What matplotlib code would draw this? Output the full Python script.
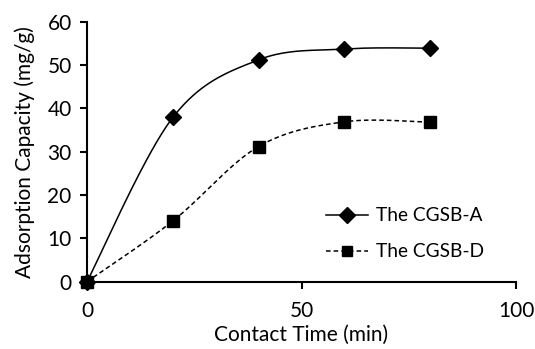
import numpy as np
import matplotlib
matplotlib.use("Agg")
import matplotlib.pyplot as plt

time = [0, 20, 40, 60, 80]
cgsb_a = [0, 37.9, 51.2, 53.7, 53.9]
cgsb_d = [0, 14.0, 31.2, 36.9, 36.8]
x_ticks = [0, 50, 100]
y_ticks = [0, 10, 20, 30, 40, 50, 60]


def smooth(xs, ys, n=40):
    xs = np.asarray(xs, float); ys = np.asarray(ys, float)
    px = np.concatenate([[xs[0]], xs, [xs[-1]]])
    py = np.concatenate([[ys[0]], ys, [ys[-1]]])
    ox, oy = [], []
    t = np.linspace(0, 1, n)
    for i in range(1, len(px) - 2):
        p0 = np.array([px[i], py[i]]); p3 = np.array([px[i + 1], py[i + 1]])
        p1 = p0 + (np.array([px[i + 1], py[i + 1]]) - np.array([px[i - 1], py[i - 1]])) / 6
        p2 = p3 - (np.array([px[i + 2], py[i + 2]]) - np.array([px[i], py[i]])) / 6
        b = ((1 - t) ** 3)[:, None] * p0 + (3 * (1 - t) ** 2 * t)[:, None] * p1 \
            + (3 * (1 - t) * t ** 2)[:, None] * p2 + (t ** 3)[:, None] * p3
        ox.extend(b[:, 0]); oy.extend(b[:, 1])
    return ox, oy


plt.rcParams['font.family'] = ['Lato', 'DejaVu Sans']
FS = 15
LFS = 13.8
fig = plt.figure(figsize=(5.35, 3.49), dpi=100)
ax = fig.add_axes([87 / 535, 1 - 281.7 / 349, (516 - 87) / 535, (281.7 - 21.7) / 349])

sx, sy = smooth(time, cgsb_a)
ax.plot(sx, sy, color='black', lw=1.1, zorder=2)
ax.plot(time, cgsb_a, ls='none', marker='D', ms=8.5, color='black', zorder=3)
sx, sy = smooth(time, cgsb_d)
ax.plot(sx, sy, color='black', lw=1.1, ls=(0, (3, 2)), zorder=2)
ax.plot(time, cgsb_d, ls='none', marker='s', ms=8.3, color='black', zorder=3)

h1, = ax.plot([], [], color='black', lw=1.1, marker='D', ms=8, label='The CGSB-A')
h2, = ax.plot([], [], color='black', lw=1.1, ls=(0, (3, 2)), marker='s', ms=7.5, label='The CGSB-D')
ax.legend(handles=[h1, h2], loc='center left', bbox_to_anchor=(0.557, 0.184), frameon=False,
          fontsize=LFS, handlelength=2.2, handletextpad=0.4, labelspacing=1.0,
          borderpad=0, borderaxespad=0)

ax.set_xlim(0, 100)
ax.set_ylim(0, 60)
ax.set_xticks(x_ticks)
ax.set_yticks(y_ticks)
for s in ['top', 'right']:
    ax.spines[s].set_visible(False)
for s in ['left', 'bottom']:
    ax.spines[s].set_linewidth(1.5)
ax.tick_params(axis='both', direction='out', length=5, width=1.5, labelsize=FS)
ax.tick_params(axis='x', pad=9)
ax.tick_params(axis='y', pad=6)
ax.set_xlabel('Contact Time (min)', fontsize=FS, labelpad=3)
ax.set_ylabel('Adsorption Capacity (mg/g)', fontsize=FS, labelpad=9)
for ln in ax.lines:
    ln.set_clip_on(False)

fig.savefig('out.png', dpi=100)
